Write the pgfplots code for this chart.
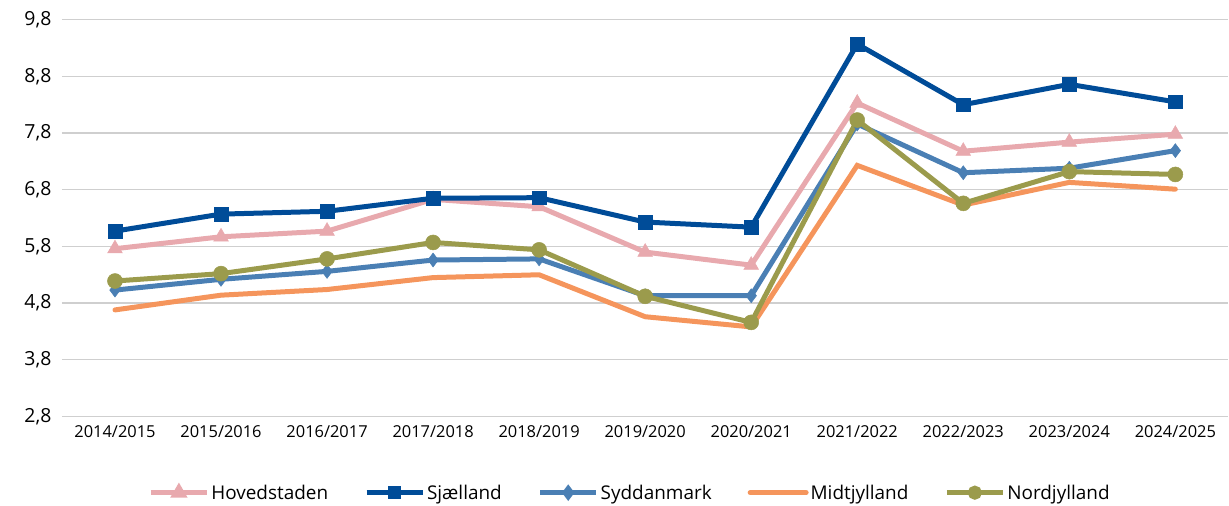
\documentclass[border=0pt]{standalone}
\usepackage{fontspec}
\setmainfont{Open Sans}
\usepackage{pgfplots}
\pgfplotsset{compat=1.18}
\definecolor{cHov}{HTML}{E8A9AE}
\definecolor{cSja}{HTML}{004C98}
\definecolor{cSyd}{HTML}{4A7FB4}
\definecolor{cMid}{HTML}{F5955C}
\definecolor{cNor}{HTML}{9B9B4C}
\definecolor{cGrid}{HTML}{CFCFCF}
\begin{document}
\begin{tikzpicture}
\begin{axis}[
  scale only axis,
  width=1167bp, height=397bp,
  xmin=-0.5, xmax=10.5,
  ymin=2.8, ymax=9.8,
  ytick={2.8,3.8,...,9.8},
  xtick={0,...,10},
  xticklabels={2014/2015,2015/2016,2016/2017,2017/2018,2018/2019,2019/2020,2020/2021,2021/2022,2022/2023,2023/2024,2024/2025},
  /pgf/number format/assume math mode=true,
  /pgf/number format/use comma,
  /pgf/number format/fixed,
  /pgf/number format/fixed zerofill,
  /pgf/number format/precision=1,
  yticklabel style={font=\fontsize{19.5}{22}\selectfont, xshift=-7bp},
  xticklabel style={font=\fontsize{16.5}{20}\selectfont, yshift=-6bp},
  axis line style={draw=none},
  major tick length=0pt,
  ymajorgrids,
  grid style={cGrid, line width=1.3bp},
  clip=false,
  legend columns=5,
  legend style={draw=none, at={(0.487,-0.192)}, anchor=center,
    font=\fontsize{19}{22}\selectfont,
    /tikz/every even column/.append style={column sep=34bp},
    inner sep=0pt},
  legend image code/.code={
    \draw[#1, mark repeat=2, mark phase=2, mark options={scale=0.6}] plot coordinates {(0bp,0bp) (28bp,0bp) (56bp,0bp)};
  },
  every axis plot/.append style={line width=5bp},
]
\addplot[cHov, mark=triangle*, mark size=8.5bp, mark options={fill=cHov, draw=cHov, line width=0.5bp}] coordinates {
(0,5.76) (1,5.97) (2,6.07) (3,6.63) (4,6.50) (5,5.70) (6,5.47) (7,8.33) (8,7.48) (9,7.64) (10,7.78)};
\addlegendentry{Hovedstaden}
\addplot[cSja, mark=square*, mark size=6.8bp, mark options={fill=cSja, draw=cSja, line width=0.5bp}] coordinates {
(0,6.07) (1,6.37) (2,6.42) (3,6.65) (4,6.66) (5,6.23) (6,6.14) (7,9.37) (8,8.30) (9,8.66) (10,8.35)};
\addlegendentry{Sjælland}
\addplot[cSyd, mark=diamond*, mark size=7bp, mark options={fill=cSyd, draw=cSyd, line width=0.5bp}] coordinates {
(0,5.03) (1,5.22) (2,5.36) (3,5.56) (4,5.58) (5,4.93) (6,4.93) (7,7.96) (8,7.10) (9,7.18) (10,7.49)};
\addlegendentry{Syddanmark}
\addplot[cMid, line cap=round] coordinates {
(0,4.68) (1,4.94) (2,5.04) (3,5.25) (4,5.30) (5,4.56) (6,4.38) (7,7.23) (8,6.53) (9,6.93) (10,6.81)};
\addlegendentry{Midtjylland}
\addplot[cNor, mark=*, mark size=7.5bp, mark options={fill=cNor, draw=cNor, line width=0.5bp}] coordinates {
(0,5.19) (1,5.32) (2,5.58) (3,5.87) (4,5.74) (5,4.92) (6,4.46) (7,8.03) (8,6.56) (9,7.12) (10,7.07)};
\addlegendentry{Nordjylland}
\end{axis}
\useasboundingbox (-62bp,-89.3bp) rectangle (1167bp,416.7bp);
\end{tikzpicture}
\end{document}
